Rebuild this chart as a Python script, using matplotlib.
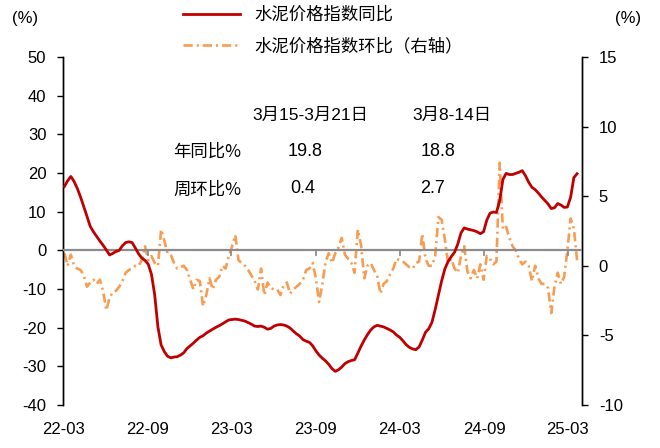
import matplotlib
matplotlib.use('Agg')
import matplotlib.pyplot as plt
import pandas as pd

plt.rcParams['font.family'] = ['Liberation Sans', 'Noto Sans CJK SC', 'DejaVu Sans']
plt.rcParams['axes.unicode_minus'] = False

# weekly cement price index, Friday of each week
dates = pd.date_range('2022-03-04', '2025-03-21', freq='W-FRI')

yoy = [
    16.5, 18.0, 19.1, 17.8, 16.0, 13.8, 11.3, 8.8, 6.2, 4.8,
    3.6, 2.4, 1.3, 0.1, -1.2, -0.8, -0.3, 0.0, 1.2, 2.0,
    2.2, 2.0, 0.6, -0.9, -2.0, -2.6, -3.6, -6.2, -11.5, -19.8,
    -24.5, -26.2, -27.4, -27.8, -27.6, -27.5, -27.1, -26.5, -25.4, -24.7,
    -24.0, -23.2, -22.5, -22.1, -21.4, -20.9, -20.4, -19.9, -19.5, -19.0,
    -18.5, -18.0, -17.9, -17.8, -17.9, -18.1, -18.3, -18.7, -19.1, -19.6,
    -19.7, -19.6, -19.9, -20.4, -20.2, -19.6, -19.3, -19.2, -19.3, -19.6,
    -20.1, -20.9, -21.6, -22.2, -23.1, -23.5, -23.8, -24.7, -26.0, -27.1,
    -27.9, -28.6, -29.5, -30.6, -31.3, -30.9, -30.2, -29.3, -28.8, -28.5,
    -28.3, -26.6, -24.8, -23.2, -21.8, -20.6, -19.8, -19.4, -19.6, -19.8,
    -20.2, -20.6, -21.1, -21.9, -22.5, -23.4, -24.4, -25.1, -25.5, -25.7,
    -25.0, -23.2, -21.2, -20.3, -18.6, -15.3, -11.6, -7.9, -4.8, -2.9,
    -1.6, -0.5, 1.6, 4.5, 5.8, 5.5, 5.3, 5.1, 4.8, 4.3,
    4.8, 7.8, 9.6, 9.9, 9.8, 12.8, 18.3, 19.9, 19.6, 19.6,
    19.9, 20.2, 20.6, 19.3, 17.6, 16.3, 15.7, 14.8, 13.8, 12.9,
    12.0, 10.8, 11.0, 12.1, 11.7, 11.1, 11.2, 13.7, 18.8, 19.8,
]

wow = [
    0.9, 0.0, 0.8, 0.0, -0.2, -0.3, -0.7, -1.5, -1.2, -1.0,
    -1.3, -1.0, -1.8, -3.2, -2.3, -1.9, -1.8, -1.5, -1.1, -0.5,
    -0.3, -0.2, 0.0, 0.0, 0.4, 1.4, 0.4, 0.7, 0.2, 0.0,
    2.6, 1.8, 0.9, 0.8, 0.2, -0.2, -0.1, 0.0, -0.3, -1.0,
    -1.7, -1.0, -1.1, -2.9, -2.1, -0.9, -1.7, -1.0, -0.8, 0.0,
    -0.2, 0.7, 1.4, 2.2, 0.4, 0.2, 0.0, -0.3, -0.7, -1.1,
    -1.7, -0.2, -2.1, -1.2, -1.6, -1.7, -1.7, -2.1, -1.4, -1.2,
    -2.0, -1.7, -1.5, -1.3, -1.0, -0.3, -0.2, 0.2, -0.9, -2.6,
    -1.3, 0.3, 0.9, 0.2, 0.9, 1.3, 2.0, 0.8, 0.5, 0.2,
    -0.5, 2.6, 1.5, -0.9, 0.0, 0.2, -0.3, -0.7, -2.0, -1.3,
    -1.1, -0.6, -0.2, 0.5, 0.4, 0.3, 0.1, -0.1, -0.2, 0.2,
    0.3, 2.3, 0.5, 0.0, 0.0, 0.7, 3.5, 3.3, 1.9, 0.2,
    0.5, -0.2, -0.5, 0.7, 1.4, -0.4, -0.9, -0.3, -0.9, 0.1,
    -1.0, 0.7, 0.5, 0.1, 0.3, 7.4, 2.6, 2.8, 2.0, 1.4,
    1.1, 0.5, 0.1, 0.3, 0.0, -1.1, 0.0, -0.9, -1.3, -1.3,
    -1.6, -3.4, -1.5, -0.5, -1.3, -0.8, 1.1, 3.4, 2.7, 0.4,
]

tick_dates = pd.to_datetime(['2022-03-01', '2022-09-01', '2023-03-01', '2023-09-01',
                             '2024-03-01', '2024-09-01', '2025-03-01'])
tick_labels = ['22-03', '22-09', '23-03', '23-09', '24-03', '24-09', '25-03']

# summary table: latest week vs previous week
periods = ['3月15-3月21日', '3月8-14日']
row_names = ['年同比%', '周环比%']
yoy_last = [yoy[-1], yoy[-2]]
wow_last = [wow[-1], wow[-2]]

red = '#C00000'
orange = '#F89C52'
cjk = ['Noto Sans CJK SC', 'DejaVu Sans']

fig = plt.figure(figsize=(6.6, 4.48), dpi=100)
ax = fig.add_axes([0.0955, 0.096, 0.7865, 0.7768])
ax2 = ax.twinx()

l1, = ax.plot(dates, yoy, color=red, lw=2.0, zorder=4, label='水泥价格指数同比')
l2, = ax2.plot(dates, wow, color=orange, lw=1.9, dashes=(3.5, 1.5, 0.8, 1.5),
               label='水泥价格指数环比（右轴）')
ax.set_zorder(ax2.get_zorder() + 1)
ax.patch.set_visible(False)

ax.set_xlim(pd.Timestamp('2022-03-01'), pd.Timestamp('2025-04-01'))
ax.set_ylim(-40, 50)
ax.set_yticks(range(-40, 51, 10))
ax2.set_ylim(-10, 15)
ax2.set_yticks(range(-10, 16, 5))

# zero line with small date ticks hanging from it
ax.axhline(0, color='#8C8C8C', lw=1.6, zorder=3)
for d in tick_dates[1:]:
    ax.plot([d, d], [0, -1.3], color='#8C8C8C', lw=1.3, zorder=3)
ax.set_xticks(tick_dates)
ax.set_xticklabels(tick_labels)
ax.tick_params(axis='x', length=0, pad=12, labelsize=12)
ax.tick_params(axis='y', direction='out', length=4, width=1, labelsize=12, pad=8)
ax2.tick_params(axis='y', direction='out', length=4, width=1, labelsize=12, pad=8)

for a in (ax, ax2):
    a.spines['top'].set_visible(False)
    a.spines['bottom'].set_visible(False)
    a.spines['left'].set_linewidth(1)
    a.spines['right'].set_linewidth(1)

fig.text(25 / 660, 1 - 18 / 448, '(%)', fontsize=12, ha='center', va='center')
fig.text(628 / 660, 1 - 18 / 448, '(%)', fontsize=12, ha='center', va='center')

fig.legend(handles=[l1, l2], loc='upper left', bbox_to_anchor=(183 / 660, 1 - 6 / 448),
           frameon=False, prop={'family': cjk, 'size': 12.5}, handlelength=3.3,
           handletextpad=0.8, labelspacing=0.75, borderpad=0, borderaxespad=0)

# small table of the latest readings
col_x = [310, 452]
val_x = [305, 438]
for x, p in zip(col_x, periods):
    fig.text(x / 660, 1 - 115 / 448, p, fontsize=12.5, ha='center', va='center')
for y, name in zip([152, 190], row_names):
    fig.text(207 / 660, 1 - y / 448, name, fontsize=12.5, family=cjk, ha='center', va='center')
for x, v in zip(val_x, yoy_last):
    fig.text(x / 660, 1 - 152 / 448, f'{v:.1f}', fontsize=13, ha='center', va='center')
for x, v in zip([303, 433], wow_last):
    fig.text(x / 660, 1 - 188 / 448, f'{v:.1f}', fontsize=13, ha='center', va='center')

fig.savefig('out.png', dpi=100)
